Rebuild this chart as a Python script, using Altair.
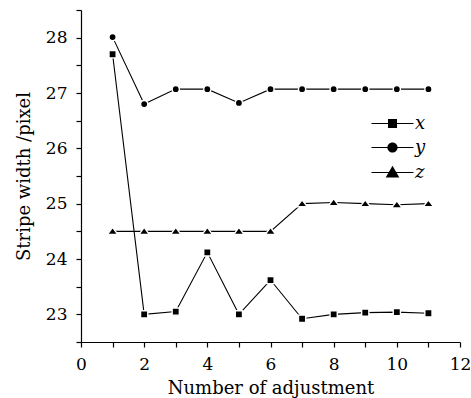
import altair as alt
import pandas as pd

adjust = [1, 2, 3, 4, 5, 6, 7, 8, 9, 10, 11]
x_vals = [27.7, 23.0, 23.05, 24.12, 23.0, 23.62, 22.92, 23.0, 23.03, 23.04, 23.02]
y_vals = [28.01, 26.8, 27.07, 27.07, 26.82, 27.07, 27.07, 27.07, 27.07, 27.07, 27.07]
z_vals = [24.5, 24.5, 24.5, 24.5, 24.5, 24.5, 25.0, 25.02, 25.0, 24.98, 25.0]
series_names = ["x", "y", "z"]
x_ticks = [0, 1, 2, 3, 4, 5, 6, 7, 8, 9, 10, 11, 12]
y_ticks = [22.5, 23, 23.5, 24, 24.5, 25, 25.5, 26, 26.5, 27, 27.5, 28, 28.5]

rows = []
for name, vals in zip(series_names, [x_vals, y_vals, z_vals]):
    for a, v in zip(adjust, vals):
        rows.append({"n": a, "w": v, "series": name})
df = pd.DataFrame(rows)

FONT = "DejaVu Serif"

axis_common = dict(
    grid=False, domainColor="black", domainWidth=1.2, tickColor="black",
    tickWidth=1.2, tickSize=5, labelFontSize=17, labelColor="black",
    titleFontSize=18, titleFontWeight="normal", titleColor="black",
    labelFlush=False, labelOverlap=False, labelFont=FONT, titleFont=FONT,
)

xenc = alt.X("n:Q", scale=alt.Scale(domain=[0, 12], nice=False, zero=False),
             axis=alt.Axis(values=x_ticks, title="Number of adjustment",
                           labelExpr="datum.value % 2 == 0 ? format(datum.value, 'd') : ''",
                           labelPadding=9, titlePadding=7, **axis_common))
yenc = alt.Y("w:Q", scale=alt.Scale(domain=[22.5, 28.5], nice=False, zero=False),
             axis=alt.Axis(values=y_ticks, title="Stripe width /pixel",
                           labelExpr="datum.value % 1 == 0 ? format(datum.value, 'd') : ''",
                           labelPadding=9, titlePadding=12, **axis_common))

lines = alt.Chart(df).mark_line(color="black", strokeWidth=1.1).encode(
    x=xenc, y=yenc, detail="series:N")

marker_paths = [
    "M-1.2,-1.2H1.2V1.2H-1.2Z",
    "M1.2,0A1.2,1.2 0 1,1 -1.2,0A1.2,1.2 0 1,1 1.2,0Z",
    "M0,-1.3L1.75,1.05L-1.75,1.05Z",
]
points = alt.Chart(df).mark_point(filled=True, fill="black", stroke="white",
                                  strokeWidth=1.4, opacity=1, size=36).encode(
    x=xenc, y=yenc,
    shape=alt.Shape("series:N", legend=None,
                    scale=alt.Scale(domain=series_names, range=marker_paths)),
)

leg_paths = [
    "M-2.47,-0.07H2.47V0.07H-2.47ZM-0.53,-0.53H0.53V0.53H-0.53Z",
    "M-2.47,-0.07H2.47V0.07H-2.47ZM0.6,0A0.6,0.6 0 1,1 -0.6,0A0.6,0.6 0 1,1 0.6,0Z",
    "M-2.47,-0.07H2.47V0.07H-2.47ZM0,-0.8L0.8,0.6L-0.8,0.6Z",
]

legend_layer = alt.Chart(df).mark_point(filled=True, color="black",
                                        opacity=0, size=289).encode(
    x=xenc, y=yenc,
    shape=alt.Shape("series:N",
                    scale=alt.Scale(domain=series_names, range=leg_paths),
                    legend=alt.Legend(title=None, orient="none", legendX=302, legendY=104,
                                      labelFontStyle="italic", labelFont=FONT,
                                      labelFontSize=18, labelColor="black",
                                      labelOffset=13, rowPadding=5, padding=0,
                                      symbolOpacity=1, symbolFillColor="black",
                                      symbolSize=289)),
)

chart = alt.layer(lines, points, legend_layer).resolve_scale(
    shape="independent"
).properties(
    width=379, height=332,
    autosize=alt.AutoSizeParams(type="none"),
    padding={"left": 81, "top": 10, "right": 11, "bottom": 56},
    background="white",
).configure_view(stroke=None)

chart.save("out.html", embed_options={"renderer": "svg", "actions": False})
